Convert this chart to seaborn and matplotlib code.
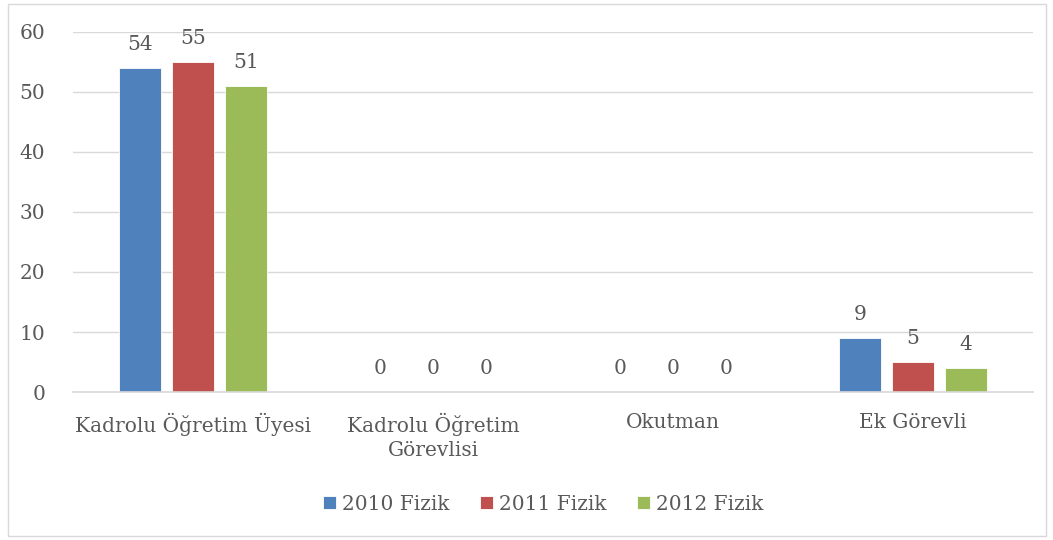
import matplotlib
matplotlib.use('Agg')
import matplotlib.pyplot as plt
import pandas as pd
import seaborn as sns

# Data
categories = ['Kadrolu Öğretim Üyesi', 'Kadrolu Öğretim\nGörevlisi', 'Okutman', 'Ek Görevli']
series = ['2010 Fizik', '2011 Fizik', '2012 Fizik']
values_2010 = [54, 0, 0, 9]
values_2011 = [55, 0, 0, 5]
values_2012 = [51, 0, 0, 4]
colors = ['#4F81BD', '#C0504D', '#9BBB59']

df = pd.DataFrame({
    'category': categories * 3,
    'series': [s for s in series for _ in categories],
    'value': values_2010 + values_2011 + values_2012,
})

sns.set_theme(style='white')
plt.rcParams['font.family'] = ['DejaVu Serif']
TXT = '#595959'
FS = 14.5

fig = plt.figure(figsize=(10.53, 5.4), dpi=100)
ax = fig.add_axes([73 / 1053, 0.274, 960 / 1053, 0.667])

sns.barplot(data=df, x='category', y='value', hue='series', order=categories,
            hue_order=series, palette=colors, saturation=1, width=0.66, gap=0.2,
            edgecolor='white', linewidth=0.6, ax=ax)

for c in ax.containers:
    ax.bar_label(c, padding=10, fontsize=FS, color=TXT)

ax.set_ylim(0, 60)
ax.set_yticks(range(0, 61, 10))
ax.yaxis.grid(True, color='#D9D9D9', linewidth=1)
ax.set_axisbelow(True)
for s in ['left', 'right', 'top']:
    ax.spines[s].set_visible(False)
ax.spines['bottom'].set_color('#D9D9D9')
ax.spines['bottom'].set_linewidth(1.2)
ax.tick_params(axis='y', length=0, pad=20, labelsize=FS, labelcolor=TXT)
ax.tick_params(axis='x', length=0, pad=15, labelsize=FS, labelcolor=TXT)
for t in ax.get_xticklabels():
    t.set_linespacing(1.3)
ax.set_xlabel('')
ax.set_ylabel('')

ax.legend(loc='upper center', bbox_to_anchor=(0.49, -0.235), ncol=3, frameon=False,
          fontsize=FS, labelcolor=TXT, handlelength=0.65, handleheight=0.65,
          handletextpad=0.3, columnspacing=1.5)

border = plt.Rectangle((0.008, 0.008), 0.985, 0.985, transform=fig.transFigure,
                       fill=False, edgecolor='#D9D9D9', linewidth=1)
fig.patches.append(border)

fig.savefig('out.png', dpi=100, facecolor='white')
